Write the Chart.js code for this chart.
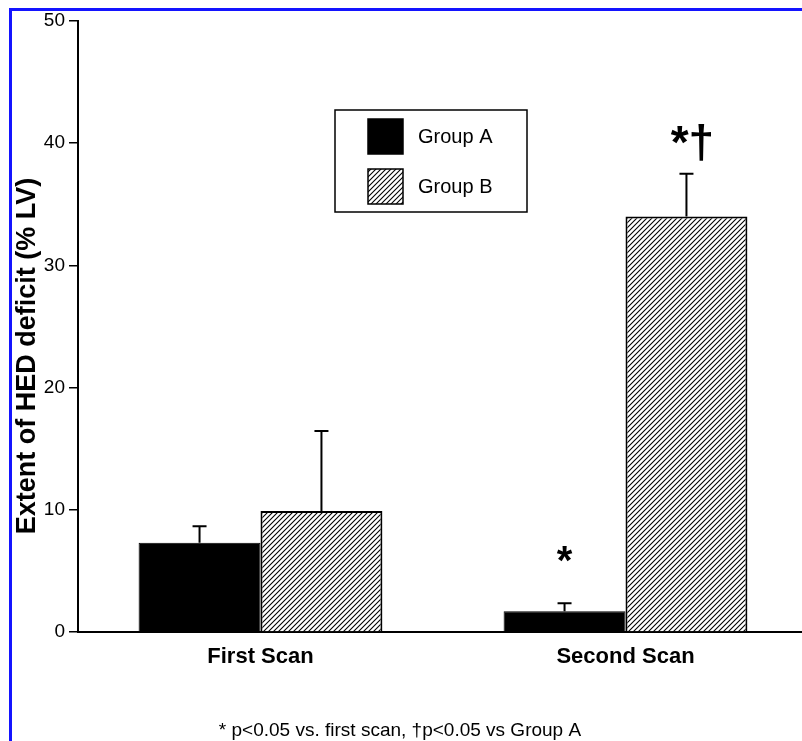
<!DOCTYPE html>
<html>
<head>
<meta charset="utf-8">
<script src="https://cdn.jsdelivr.net/npm/chart.js@4/dist/chart.umd.min.js"></script>
<style>
  body { margin: 0; overflow: hidden; background: #fff; }
  #frame { position: absolute; left: 9px; top: 8px; width: 900px; height: 900px;
           border-left: 3px solid #1414ff; border-top: 3px solid #1414ff; }
  #chart { position: absolute; left: 0; top: 0; }
</style>
</head>
<body>
<div id="frame"></div>
<canvas id="chart" width="808" height="741"></canvas>
<script>
// data
let scans = ["First Scan", "Second Scan"];
let groupA = [7.3, 1.7];
let groupB = [9.9, 34.0];
let errA = [1.35, 0.65];
let errB = [6.55, 3.5];
let markA = ["", "*"];
let markB = ["", "*\u2020"];
let yTicks = [0, 10, 20, 30, 40, 50];

const FONT = "'Liberation Sans', Arial, Helvetica, sans-serif";

function makeHatch() {
    let c = document.createElement("canvas");
    c.width = 5; c.height = 5;
    let g = c.getContext("2d");
    g.fillStyle = "#fff";
    g.fillRect(0, 0, 5, 5);
    g.strokeStyle = "#000";
    g.lineWidth = 1.1;
    g.beginPath();
    g.moveTo(-1, 6); g.lineTo(6, -1);
    g.moveTo(-1, 1); g.lineTo(1, -1);
    g.moveTo(4, 6); g.lineTo(6, 4);
    g.stroke();
    return g.createPattern(c, "repeat");
}
let hatch = makeHatch();

// error bars, stars, legend box, axis title and footnote
let extras = {
    id: "extras",
    afterDatasetsDraw(chart) {
        let ctx = chart.ctx;
        let y = chart.scales.y;
        let sets = [[groupA, errA, markA, 48, 0, 40], [groupB, errB, markB, 36, 6, 46]];
        ctx.save();
        sets.forEach(([vals, errs, marks, off, dx, size], di) => {
            let meta = chart.getDatasetMeta(di);
            meta.data.forEach((bar, i) => {
                let x = bar.x;
                let top = y.getPixelForValue(vals[i] + errs[i]);
                let base = y.getPixelForValue(vals[i]);
                ctx.strokeStyle = "#000";
                ctx.lineWidth = 2;
                ctx.beginPath();
                ctx.moveTo(x, base); ctx.lineTo(x, top);
                ctx.moveTo(x - 7, top); ctx.lineTo(x + 7, top);
                ctx.stroke();
                if (marks[i]) {
                    ctx.fillStyle = "#000";
                    ctx.font = "bold " + size + "px " + FONT;
                    ctx.textAlign = "center";
                    ctx.textBaseline = "middle";
                    ctx.fillText(marks[i], x + dx, top - off + 8);
                }
            });
        });

        // legend box
        ctx.lineWidth = 1.5;
        ctx.strokeStyle = "#000";
        ctx.strokeRect(335, 110, 192, 102);
        chart.data.datasets.forEach((ds, i) => {
            let sy = 119 + i * 50;
            ctx.fillStyle = ds.backgroundColor;
            ctx.fillRect(368, sy, 35, 35);
            ctx.lineWidth = 1.5;
            ctx.strokeRect(368, sy, 35, 35);
            ctx.fillStyle = "#000";
            ctx.font = "20px " + FONT;
            ctx.textAlign = "left";
            ctx.textBaseline = "middle";
            ctx.fillText(ds.label, 418, sy + 18);
        });

        // y axis title
        ctx.save();
        ctx.translate(28, 356);
        ctx.rotate(-Math.PI / 2);
        ctx.font = "bold 27px " + FONT;
        ctx.textAlign = "center";
        ctx.textBaseline = "middle";
        ctx.fillText("Extent of HED deficit (% LV)", 0, 0);
        ctx.restore();

        // footnote
        ctx.font = "19px " + FONT;
        ctx.textAlign = "center";
        ctx.textBaseline = "middle";
        ctx.fillText("* p<0.05 vs. first scan, \u2020p<0.05 vs Group A", 400, 731);
        ctx.restore();
    }
};

new Chart(document.getElementById("chart"), {
    type: "bar",
    data: {
        labels: scans,
        datasets: [
            { label: "Group A", data: groupA, backgroundColor: "#000", borderColor: "#000", borderWidth: 1,
              categoryPercentage: 0.668, barPercentage: 1.0 },
            { label: "Group B", data: groupB, backgroundColor: hatch, borderColor: "#000", borderWidth: 2,
              categoryPercentage: 0.668, barPercentage: 1.0 }
        ]
    },
    options: {
        responsive: false,
        animation: false,
        layout: { padding: { top: 21, left: 0, right: 0, bottom: 0 } },
        plugins: { legend: { display: false }, tooltip: { enabled: false } },
        scales: {
            x: {
                grid: { display: false, drawTicks: false },
                border: { display: true, color: "#000", width: 2 },
                ticks: { color: "#000", padding: 12, font: { family: FONT, size: 22, weight: "bold" } },
                afterFit: s => { s.height = 109; }
            },
            y: {
                min: 0,
                max: 50,
                afterBuildTicks: s => { s.ticks = yTicks.map(v => ({ value: v })); },
                grid: { drawOnChartArea: false, drawTicks: true, tickLength: 9, color: "#000", lineWidth: 1.5 },
                border: { display: true, color: "#000", width: 2 },
                ticks: { color: "#000", padding: 4, font: { family: FONT, size: 19 } },
                afterFit: s => { s.width = 78; }
            }
        }
    },
    plugins: [extras]
});
</script>
</body>
</html>
